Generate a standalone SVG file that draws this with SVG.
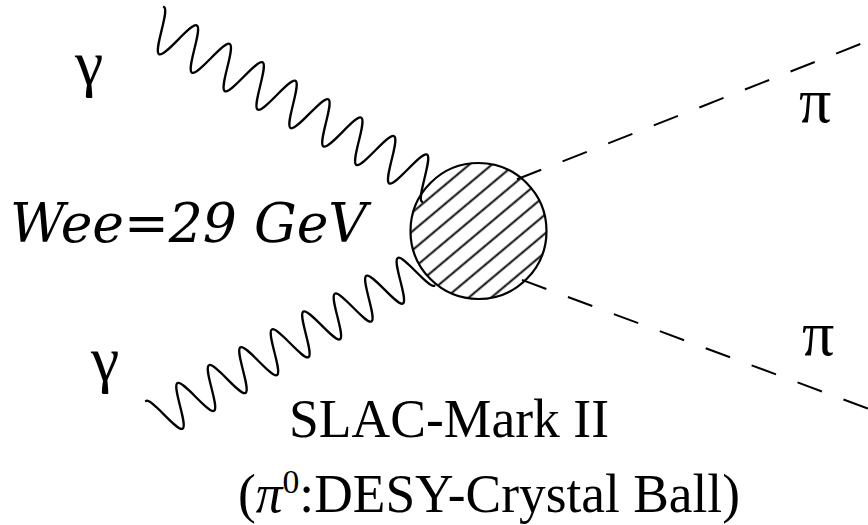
<svg xmlns="http://www.w3.org/2000/svg" width="868" height="525" viewBox="0 0 868 525">
  <style>
    .photon { fill: none; stroke: #000; stroke-width: 2.3; stroke-linecap: round; stroke-linejoin: round; }
    .pion { fill: none; stroke: #000; stroke-width: 2; stroke-dasharray: 26 23; }
    .greek { font-family: "Liberation Serif", "Times New Roman", serif; font-size: 64px; fill: #000; }
    .serif { font-family: "Liberation Serif", "Times New Roman", serif; font-size: 54px; fill: #000; }
    .ital { font-family: "DejaVu Serif", serif; font-style: italic; font-size: 54px; fill: #000; }
  </style>
  <defs>
    <pattern id="hatch" patternUnits="userSpaceOnUse" width="20" height="14.5" patternTransform="rotate(-40)">
      <line x1="0" y1="7.25" x2="20" y2="7.25" stroke="#000" stroke-width="1.9"/>
    </pattern>
  </defs>
  <rect width="868" height="525" fill="#fff"/>

  <g id="connectors">
    <g id="photon-upper" transform="translate(153.3,26) rotate(29.3)">
      <path class="photon" d="M0,-21.8 C6.85,-21.8 12,21.8 18.85,21.8 S30.85,-21.8 37.7,-21.8 S49.7,21.8 56.55,21.8 S68.55,-21.8 75.4,-21.8 S87.4,21.8 94.25,21.8 S106.25,-21.8 113.1,-21.8 S125.1,21.8 131.95,21.8 S143.95,-21.8 150.8,-21.8 S162.8,21.8 169.65,21.8 S181.65,-21.8 188.5,-21.8 S200.5,21.8 207.35,21.8 S219.35,-21.8 226.2,-21.8 S238.2,21.8 245.05,21.8 S257.05,-21.8 263.9,-21.8 S275.9,21.8 282.75,21.8 S294.75,-21.8 301.6,-21.8 S313.6,21.8 320.45,21.8"/>
    </g>
    <g id="photon-lower" transform="translate(156.4,419.3) rotate(-29.6)">
      <path class="photon" d="M0,-21.1 C6.58,-21.1 11.52,21.1 18.1,21.1 S29.62,-21.1 36.2,-21.1 S47.72,21.1 54.3,21.1 S65.82,-21.1 72.4,-21.1 S83.92,21.1 90.5,21.1 S102.02,-21.1 108.6,-21.1 S120.12,21.1 126.7,21.1 S138.22,-21.1 144.8,-21.1 S156.32,21.1 162.9,21.1 S174.42,-21.1 181,-21.1 S192.52,21.1 199.1,21.1 S210.62,-21.1 217.2,-21.1 S228.72,21.1 235.3,21.1 S246.82,-21.1 253.4,-21.1 S264.92,21.1 271.5,21.1 S283.02,-21.1 289.6,-21.1 S301.12,21.1 307.7,21.1"/>
    </g>
    <line id="pion-upper" class="pion" x1="517" y1="179.3" x2="868" y2="41"/>
    <line id="pion-lower" class="pion" x1="522" y1="279.9" x2="868" y2="408.6"/>
  </g>

  <g id="blob">
    <circle cx="478.5" cy="231" r="68" fill="url(#hatch)" stroke="#000" stroke-width="2.2"/>
  </g>

  <g id="label-gamma-upper"><text class="greek" x="75" y="84">γ</text></g>
  <g id="label-gamma-lower"><text class="greek" x="91" y="380">γ</text></g>
  <g id="label-pi-upper"><text class="greek" x="799" y="122" font-size="60">π</text></g>
  <g id="label-pi-lower"><text class="greek" x="802" y="355" font-size="60">π</text></g>
  <g id="label-energy"><text class="ital" x="10" y="242" textLength="357" lengthAdjust="spacingAndGlyphs">Wee=29 GeV</text></g>
  <g id="label-experiment">
    <text class="serif" x="289" y="437" textLength="320" lengthAdjust="spacingAndGlyphs">SLAC-Mark II</text>
    <text class="serif" x="238" y="512" textLength="502" lengthAdjust="spacingAndGlyphs">(<tspan font-style="italic">π</tspan><tspan font-size="34" dy="-19">0</tspan><tspan dy="19">:DESY-Crystal Ball)</tspan></text>
  </g>
</svg>
